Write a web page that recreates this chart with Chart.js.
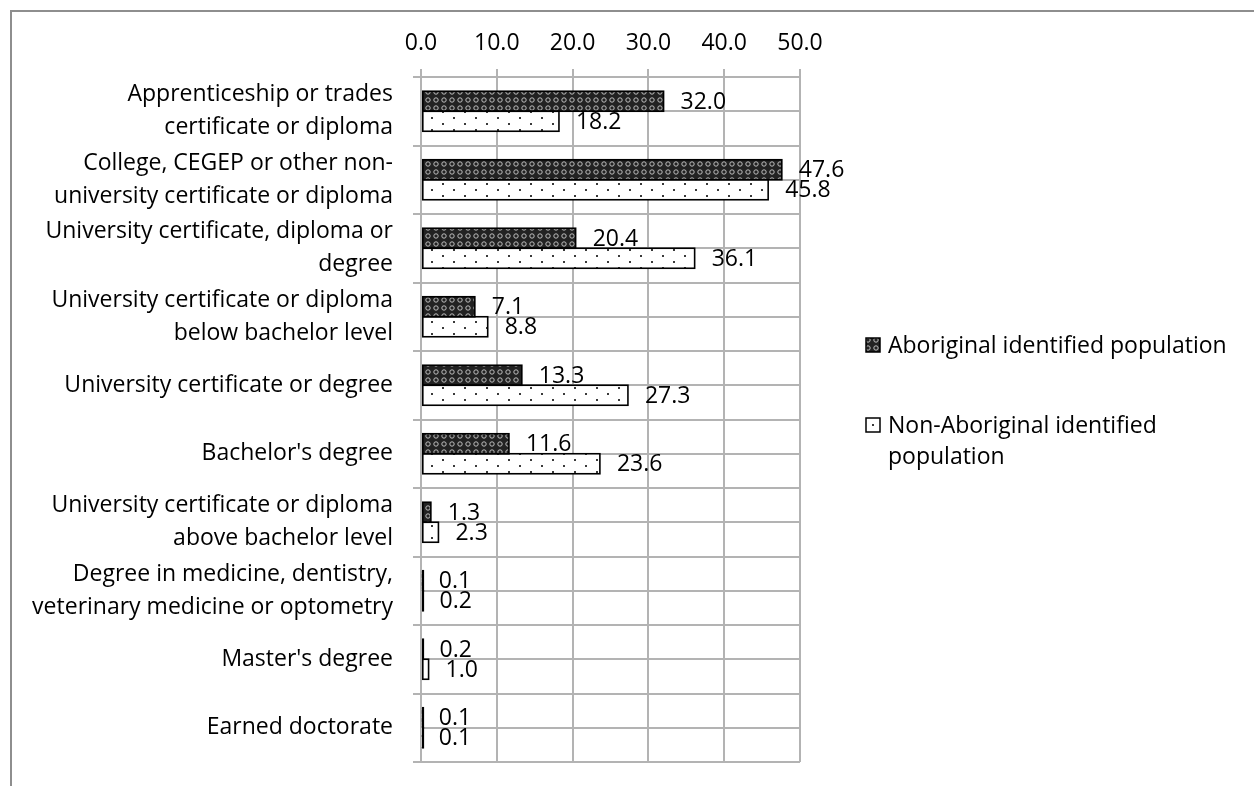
<!DOCTYPE html>
<html>
<head>
<meta charset="utf-8">
<script src="https://cdn.jsdelivr.net/npm/chart.js@4/dist/chart.umd.min.js"></script>
<style>
  html, body { margin: 0; padding: 0; background: #fff; }
  #wrap { width: 1254px; height: 786px; position: relative; }
</style>
</head>
<body>
<div id="wrap"><canvas id="c" width="1254" height="786"></canvas></div>
<script>
// Highest level of postsecondary education, by identity group (%)
const categories = [
  ['Apprenticeship or trades', 'certificate or diploma'],
  ['College, CEGEP or other non-', 'university certificate or diploma'],
  ['University certificate, diploma or', 'degree'],
  ['University certificate or diploma', 'below bachelor level'],
  ['University certificate or degree'],
  ["Bachelor's degree"],
  ['University certificate or diploma', 'above bachelor level'],
  ['Degree in medicine, dentistry,', 'veterinary medicine or optometry'],
  ["Master's degree"],
  ['Earned doctorate']
];
const aboriginal    = [32.0, 47.6, 20.4, 7.1, 13.3, 11.6, 1.3, 0.1, 0.2, 0.1];
const nonAboriginal = [18.2, 45.8, 36.1, 8.8, 27.3, 23.6, 2.3, 0.2, 1.0, 0.1];
const xTicks = [0, 10, 20, 30, 40, 50];
const legendLabels = [
  ['Aboriginal identified population'],
  ['Non-Aboriginal identified', 'population']
];

const FONT = '"Open Sans", Lato, sans-serif';
const FSIZE = 23;
const GRID = '#b3b3b3';

// Fill patterns for the two series
function crossPattern() {
  const t = document.createElement('canvas');
  t.width = 8; t.height = 8;
  const g = t.getContext('2d');
  g.fillStyle = '#222';
  g.fillRect(0, 0, 8, 8);
  g.strokeStyle = '#bdbdbd';
  g.lineWidth = 1;
  g.beginPath();
  g.arc(4, 4, 2.2, 0, Math.PI * 2);
  g.stroke();
  return g.createPattern(t, 'repeat');
}
function dotPattern() {
  const t = document.createElement('canvas');
  t.width = 22; t.height = 12;
  const g = t.getContext('2d');
  g.fillStyle = '#ffffff';
  g.fillRect(0, 0, 22, 12);
  g.fillStyle = '#3a3a3a';
  g.fillRect(2, 3, 2, 2);
  g.fillRect(13, 9, 2, 2);
  return g.createPattern(t, 'repeat');
}
const ctx0 = document.getElementById('c').getContext('2d');
const fills = [crossPattern(), dotPattern()];

// White background and the outer frame
const framePlugin = {
  id: 'frame',
  beforeDraw(chart) {
    const ctx = chart.ctx;
    ctx.save();
    ctx.fillStyle = '#fff';
    ctx.fillRect(0, 0, chart.width, chart.height);
    ctx.fillStyle = '#8e8e8e';
    ctx.fillRect(10, 10, chart.width - 10, 2);
    ctx.fillRect(10, 10, 2, chart.height - 10);
    ctx.restore();
  }
};

// Extra horizontal lines through the middle of every category
const midLines = {
  id: 'midLines',
  beforeDatasetsDraw(chart) {
    const ctx = chart.ctx, ys = chart.scales.y, a = chart.chartArea;
    ctx.save();
    ctx.strokeStyle = GRID;
    ctx.lineWidth = 2;
    categories.forEach((c, i) => {
      const y = Math.round(ys.getPixelForValue(i));
      ctx.beginPath();
      ctx.moveTo(a.left, y);
      ctx.lineTo(a.right, y);
      ctx.stroke();
    });
    ctx.restore();
  }
};

// Bar outlines (kept visible even for very short bars) and value labels
const barDecor = {
  id: 'barDecor',
  afterDatasetsDraw(chart) {
    const ctx = chart.ctx, xs = chart.scales.x;
    ctx.save();
    ctx.strokeStyle = '#000';
    ctx.lineWidth = 1.6;
    chart.data.datasets.forEach((ds, di) => {
      chart.getDatasetMeta(di).data.forEach(bar => {
        const h = bar.height;
        ctx.strokeRect(bar.base + 0.8, bar.y - h / 2, Math.max(bar.x - bar.base - 0.8, 0.5), h);
      });
    });
    ctx.font = FSIZE + 'px ' + FONT;
    ctx.fillStyle = '#000';
    ctx.textAlign = 'left';
    ctx.textBaseline = 'middle';
    chart.data.datasets.forEach((ds, di) => {
      chart.getDatasetMeta(di).data.forEach((bar, i) => {
        const v = ds.data[i];
        ctx.fillText(v.toFixed(1), xs.getPixelForValue(v) + 17, bar.y + 1);
      });
    });
    ctx.restore();
  }
};

// Legend on the right, with wrapped labels
const sideLegend = {
  id: 'sideLegend',
  afterDraw(chart) {
    const ctx = chart.ctx;
    ctx.save();
    ctx.font = FSIZE + 'px ' + FONT;
    ctx.textAlign = 'left';
    ctx.textBaseline = 'alphabetic';
    const firstBaselines = [353, 433];
    legendLabels.forEach((lines, k) => {
      const by = firstBaselines[k];
      ctx.fillStyle = k === 0 ? fills[0] : '#fff';
      ctx.fillRect(866, by - 15, 14, 14);
      if (k === 1) { ctx.fillStyle = '#3a3a3a'; ctx.fillRect(872, by - 9, 2, 2); }
      ctx.strokeStyle = '#000';
      ctx.lineWidth = 1.5;
      ctx.strokeRect(866, by - 15, 14, 14);
      ctx.fillStyle = '#000';
      lines.forEach((ln, j) => ctx.fillText(ln, 888, by + j * 31));
    });
    ctx.restore();
  }
};

new Chart(ctx0, {
  type: 'bar',
  data: {
    labels: categories,
    datasets: [
      { label: legendLabels[0].join(' '), data: aboriginal, backgroundColor: fills[0], borderWidth: 0 },
      { label: legendLabels[1].join(' '), data: nonAboriginal, backgroundColor: fills[1], borderWidth: 0 }
    ]
  },
  options: {
    indexAxis: 'y',
    responsive: false,
    animation: false,
    events: [],
    datasets: { bar: { barPercentage: 1.0, categoryPercentage: 0.584 } },
    layout: { padding: { left: 0, top: 0, right: 454, bottom: 24 } },
    plugins: { legend: { display: false }, tooltip: { enabled: false } },
    scales: {
      x: {
        position: 'top',
        min: xTicks[0],
        max: xTicks[xTicks.length - 1],
        afterBuildTicks: s => { s.ticks = xTicks.map(v => ({ value: v })); },
        ticks: { callback: v => Number(v).toFixed(1), color: '#000', padding: 12,
                 maxRotation: 0, autoSkip: false, font: { family: FONT, size: FSIZE } },
        grid: { color: GRID, lineWidth: 2, tickLength: 8 },
        border: { color: GRID, width: 2 },
        afterFit: s => { s.height = 77; s.paddingLeft = 0; s.paddingRight = 0; }
      },
      y: {
        ticks: { color: '#000', padding: 20, autoSkip: false,
                 font: { family: FONT, size: FSIZE, lineHeight: 1.45 } },
        grid: { color: GRID, lineWidth: 2, tickLength: 8, offset: true },
        border: { color: GRID, width: 2 },
        afterFit: s => { s.width = 421; s.paddingTop = 0; s.paddingBottom = 0; }
      }
    }
  },
  plugins: [framePlugin, midLines, barDecor, sideLegend]
});
</script>
</body>
</html>
